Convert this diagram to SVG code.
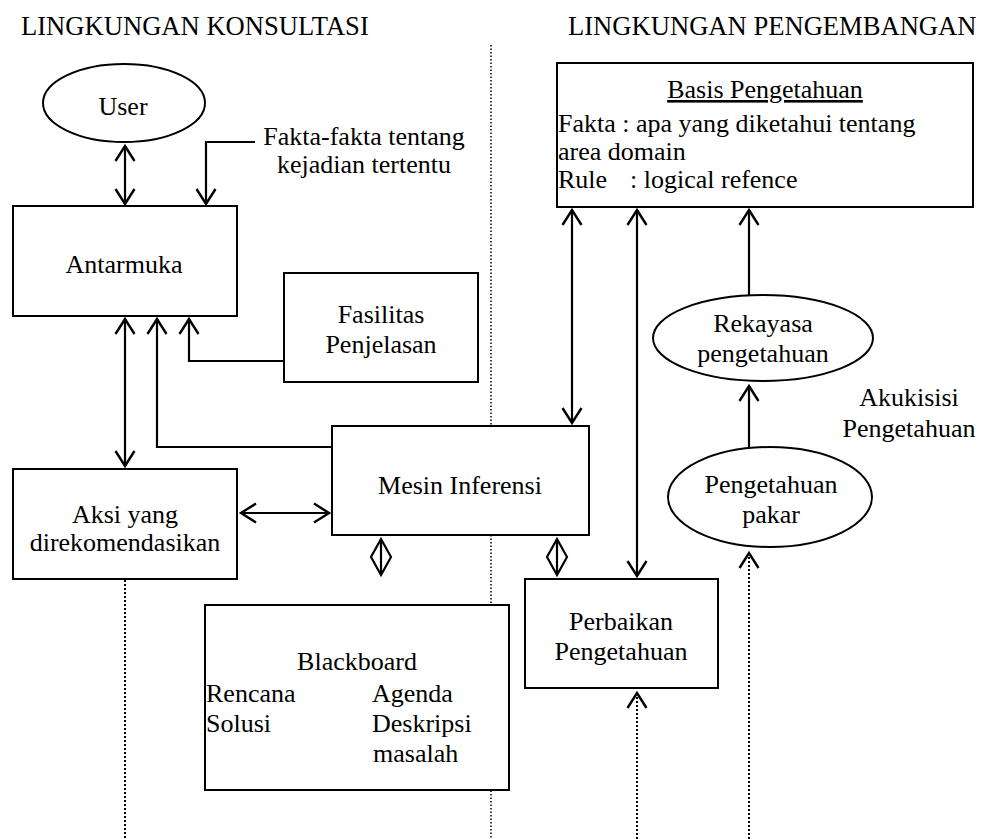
<svg xmlns="http://www.w3.org/2000/svg" width="982" height="839" viewBox="0 0 982 839">
<style>
.t{font-family:'Liberation Serif','Times New Roman',Times,serif;font-size:26px;fill:#000}
.h{font-size:26.6px}
.m{text-anchor:middle}
.box{fill:#fff;stroke:#000;stroke-width:2}
.ln{fill:none;stroke:#000;stroke-width:2.2}
.dot{fill:none;stroke:#000;stroke-width:2;stroke-dasharray:2 2}
.div{fill:none;stroke:#000;stroke-width:1.5;stroke-dasharray:1.5 2}
</style>
<defs>
<marker id="ah" markerUnits="userSpaceOnUse" markerWidth="24" markerHeight="24" viewBox="-16 -12 20 24" refX="0" refY="0" orient="auto-start-reverse">
<path d="M-15,-9.5 L0,0 L-15,9.5" fill="none" stroke="#000" stroke-width="2.4"/>
</marker>
</defs>
<rect width="982" height="839" fill="#fff"/>
<g class="t h">
<text x="21" y="35">LINGKUNGAN KONSULTASI</text>
<text x="568" y="35">LINGKUNGAN PENGEMBANGAN</text>
</g>
<g id="connectors">
<line class="div" x1="491" y1="45" x2="491" y2="839"/>
<line class="dot" x1="125" y1="580" x2="125" y2="839"/>
<line class="ln" x1="125" y1="146" x2="125" y2="204" marker-start="url(#ah)" marker-end="url(#ah)"/>
<path class="ln" d="M255,142 H206 V204" marker-end="url(#ah)"/>
<line class="ln" x1="125" y1="319" x2="125" y2="466" marker-start="url(#ah)" marker-end="url(#ah)"/>
<path class="ln" d="M332,447 H157 V319" marker-end="url(#ah)"/>
<path class="ln" d="M285,361 H189 V319" marker-end="url(#ah)"/>
<line class="ln" x1="241" y1="513" x2="329" y2="513" marker-start="url(#ah)" marker-end="url(#ah)"/>
<polygon class="ln" points="381,539 391,557 381,575 371,557"/>
<line class="ln" x1="381" y1="539" x2="381" y2="575"/>
<polygon class="ln" points="557,539 567,557 557,575 547,557"/>
<line class="ln" x1="557" y1="539" x2="557" y2="575"/>
<line class="ln" x1="572" y1="210" x2="572" y2="423" marker-start="url(#ah)" marker-end="url(#ah)"/>
<line class="ln" x1="637" y1="210" x2="637" y2="576" marker-start="url(#ah)" marker-end="url(#ah)"/>
<line class="ln" x1="749" y1="295" x2="749" y2="210" marker-end="url(#ah)"/>
<line class="ln" x1="749" y1="447" x2="749" y2="386" marker-end="url(#ah)"/>
<line class="dot" x1="637" y1="839" x2="637" y2="693" marker-end="url(#ah)"/>
<line class="dot" x1="749" y1="839" x2="749" y2="553" marker-end="url(#ah)"/>
</g>
<g id="user">
<ellipse class="box" cx="124" cy="103" rx="81" ry="39"/>
<text class="t m" x="123" y="115">User</text>
</g>
<g id="fakta-label" class="t m">
<text x="364" y="145">Fakta-fakta tentang</text>
<text x="364" y="173">kejadian tertentu</text>
</g>
<g id="antarmuka">
<rect class="box" x="13" y="206" width="224" height="110"/>
<text class="t m" x="124" y="273">Antarmuka</text>
</g>
<g id="fasilitas">
<rect class="box" x="284" y="273" width="194" height="109"/>
<text class="t m" x="381" y="323">Fasilitas</text>
<text class="t m" x="381" y="353">Penjelasan</text>
</g>
<g id="aksi">
<rect class="box" x="13" y="469" width="224" height="110"/>
<text class="t m" x="125" y="523">Aksi yang</text>
<text class="t m" x="125" y="551">direkomendasikan</text>
</g>
<g id="mesin">
<rect class="box" x="332" y="426" width="257" height="109"/>
<text class="t m" x="460" y="494">Mesin Inferensi</text>
</g>
<g id="blackboard">
<rect class="box" x="205" y="605" width="304" height="185"/>
<text class="t m" x="357" y="670">Blackboard</text>
<text class="t" x="206" y="702">Rencana</text>
<text class="t" x="206" y="732">Solusi</text>
<text class="t" x="372" y="702">Agenda</text>
<text class="t" x="372" y="732">Deskripsi</text>
<text class="t" x="373" y="762">masalah</text>
</g>
<g id="basis">
<rect class="box" x="557" y="63" width="416" height="144"/>
<text class="t m" x="765" y="98" text-decoration="underline">Basis Pengetahuan</text>
<text class="t" x="558" y="132">Fakta : apa yang diketahui tentang</text>
<text class="t" x="558" y="160">area domain</text>
<text class="t" x="558" y="188">Rule<tspan x="630">: logical refence</tspan></text>
</g>
<g id="perbaikan">
<rect class="box" x="525" y="579" width="193" height="109"/>
<text class="t m" x="621" y="630">Perbaikan</text>
<text class="t m" x="621" y="660">Pengetahuan</text>
</g>
<g id="rekayasa">
<ellipse class="box" cx="763" cy="338" rx="110" ry="43"/>
<text class="t m" x="763" y="332">Rekayasa</text>
<text class="t m" x="763" y="362">pengetahuan</text>
</g>
<g id="pakar">
<ellipse class="box" cx="770" cy="497" rx="102" ry="50"/>
<text class="t m" x="771" y="493">Pengetahuan</text>
<text class="t m" x="771" y="523">pakar</text>
</g>
<g id="akuisisi" class="t m">
<text x="909" y="406">Akukisisi</text>
<text x="909" y="437">Pengetahuan</text>
</g>
</svg>
